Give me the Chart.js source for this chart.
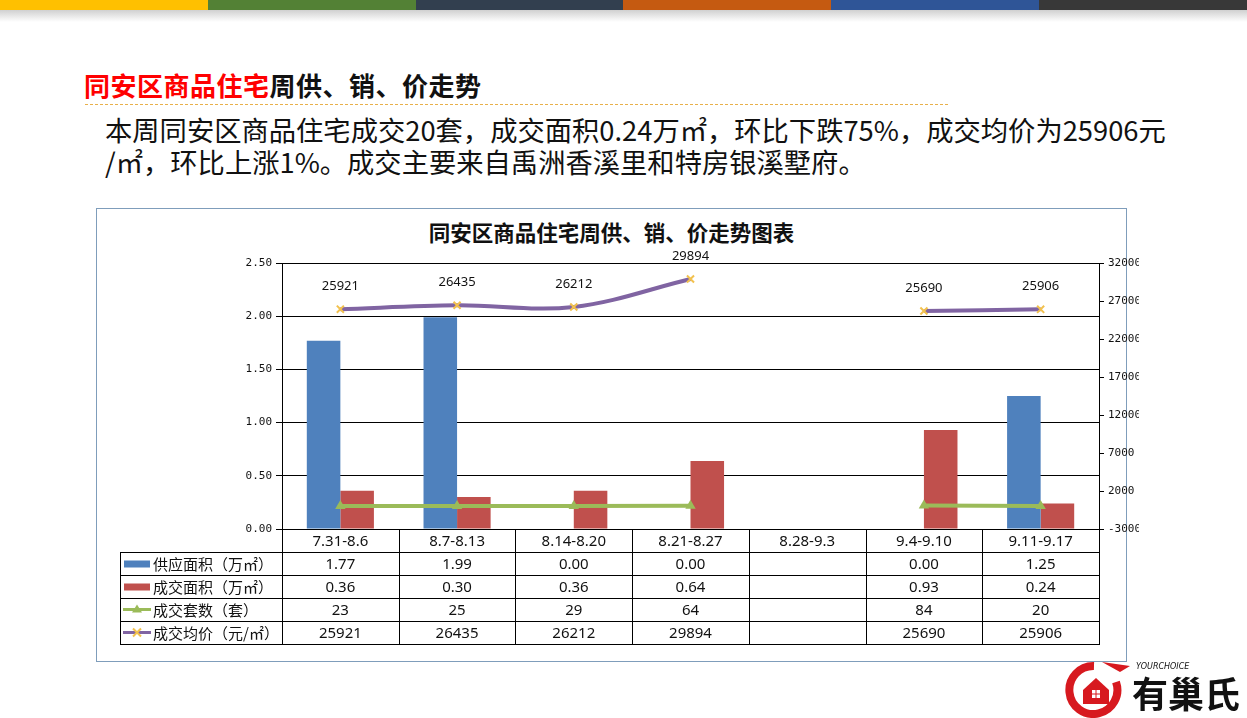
<html><head><meta charset="UTF-8">
<title>同安区商品住宅周供、销、价走势</title>
<style>
* { margin: 0; padding: 0; box-sizing: border-box; }
body { width: 1247px; height: 718px; background: #fff; position: relative; overflow: hidden;
  font-family: 'Noto Sans CJK SC', 'Noto Sans', sans-serif; }
.stripes { position: absolute; left: 0; top: 0; width: 1247px; height: 10px; display: flex; }
.stripes div { flex: 1; height: 10px; }
.shade { position: absolute; left: 0; top: 10px; width: 1247px; height: 12px;
  background: linear-gradient(rgba(120,120,120,0.35), rgba(255,255,255,0)); }
.heading { position: absolute; left: 84px; top: 66px; font-size: 26px; font-weight: bold; color: #111; letter-spacing: 0.5px; }
.heading span { color: #ff0000; }
.dots { position: absolute; left: 85px; top: 104px; width: 863px; border-top: 1px dashed #e8b04a; }
.para { position: absolute; left: 105px; top: 113px; font-size: 27.3px; line-height: 32px; color: #111; width: 1140px; }
.box { position: absolute; left: 96px; top: 208px; width: 1031px; height: 454px; border: 1px solid #7f9dbb; }
.ctitle { position: absolute; left: 96px; top: 216px; width: 1031px; text-align: center;
  font-size: 21.5px; font-weight: bold; color: #111; }
#wrap { position: absolute; left: 0; top: 0; width: 1247px; height: 718px; }
.logo { position: absolute; left: 1064px; top: 658px; width: 183px; height: 60px; }
</style>
<script src="https://cdn.jsdelivr.net/npm/chart.js"></script>
</head>
<body>

<div class="stripes">
  <div style="background:#ffc000"></div>
  <div style="background:#538135"></div>
  <div style="background:#323f4f"></div>
  <div style="background:#c55a11"></div>
  <div style="background:#2f5597"></div>
  <div style="background:#383838"></div>
</div>
<div class="shade"></div>

<div class="heading"><span>同安区商品住宅</span>周供、销、价走势</div>
<div class="dots"></div>
<div class="para">本周同安区商品住宅成交20套，成交面积0.24万㎡，环比下跌75%，成交均价为25906元<br>/㎡，环比上涨1%。成交主要来自禹洲香溪里和特房银溪墅府。</div>

<div class="box"></div>
<div class="ctitle">同安区商品住宅周供、销、价走势图表</div>

<div id="wrap"><canvas id="chart" width="1247" height="718"></canvas></div>

<svg class="logo" viewBox="0 0 183 60">
  <path d="M30 8 A24 24 0 1 0 52 24" fill="none" stroke="#d7191f" stroke-width="8"/>
  <path d="M38 4 L66 8 L56 14 Z" fill="#d7191f"/>
  <path d="M19 32 L32 20 L45 32 L45 46 L19 46 Z" fill="#d7191f"/>
  <rect x="28" y="32" width="8" height="8" fill="#fff"/>
  <line x1="32" y1="32" x2="32" y2="40" stroke="#d7191f" stroke-width="1"/>
  <line x1="28" y1="36" x2="36" y2="36" stroke="#d7191f" stroke-width="1"/>
  <text x="72" y="11" font-size="8" font-style="italic" fill="#111" font-family="DejaVu Sans">YOURCHOICE</text>
  <text x="68" y="50" font-size="36" font-weight="bold" fill="#111" font-family="Noto Sans CJK SC">有巢氏</text>
</svg>

<script>
const weeks = ['7.31-8.6', '8.7-8.13', '8.14-8.20', '8.21-8.27', '8.28-9.3', '9.4-9.10', '9.11-9.17'];
const supplyArea = [1.77, 1.99, 0.00, 0.00, null, 0.00, 1.25];
const dealArea = [0.36, 0.30, 0.36, 0.64, null, 0.93, 0.24];
const dealUnits = [23, 25, 29, 64, null, 84, 20];
const avgPrice = [25921, 26435, 26212, 29894, null, 25690, 25906];

const seriesNames = ['供应面积（万㎡）', '成交面积（万㎡）', '成交套数（套）', '成交均价（元/㎡）'];
const tableRows = [
  supplyArea.map(v => v === null ? '' : v.toFixed(2)),
  dealArea.map(v => v === null ? '' : v.toFixed(2)),
  dealUnits.map(v => v === null ? '' : String(v)),
  avgPrice.map(v => v === null ? '' : String(v))
];

const BLUE = '#4f81bd', RED = '#c0504d', GREEN = '#9bbb59', PURPLE = '#8064a2', STAR = '#f2c14e';

// 均价数据标签
const priceLabels = {
  id: 'priceLabels',
  afterDatasetsDraw(chart) {
    const ctx = chart.ctx;
    const meta = chart.getDatasetMeta(3);
    ctx.save();
    ctx.font = '13px "Noto Sans", sans-serif';
    ctx.fillStyle = '#111';
    ctx.textAlign = 'center';
    ctx.textBaseline = 'middle';
    meta.data.forEach((pt, i) => {
      if (avgPrice[i] === null) return;
      ctx.fillText(String(avgPrice[i]), pt.x, pt.y - 23);
    });
    ctx.restore();
  }
};

// 底部数据表
const dataTable = {
  id: 'dataTable',
  afterDraw(chart) {
    const ctx = chart.ctx;
    const area = chart.chartArea;
    const x = chart.scales.x;
    const colW = area.width / weeks.length;
    const top = area.bottom;
    const rowH = 23;
    const firstX = 120;
    ctx.save();
    ctx.strokeStyle = '#000';
    ctx.lineWidth = 1;
    ctx.beginPath();
    for (let i = 0; i <= weeks.length; i++) {
      const px = Math.round(area.left + i * colW) + 0.5;
      ctx.moveTo(px, top);
      ctx.lineTo(px, top + rowH * 5);
    }
    ctx.moveTo(firstX + 0.5, top + rowH);
    ctx.lineTo(firstX + 0.5, top + rowH * 5);
    for (let r = 1; r <= 5; r++) {
      const py = Math.round(top + r * rowH) + 0.5;
      ctx.moveTo(firstX, py);
      ctx.lineTo(area.right + 1, py);
    }
    ctx.stroke();

    ctx.font = '15px "Noto Sans", "Noto Sans CJK SC", sans-serif';
    ctx.fillStyle = '#111';
    ctx.textAlign = 'center';
    ctx.textBaseline = 'middle';
    weeks.forEach((w, i) => {
      const cx = x.getPixelForValue(i);
      ctx.fillText(w, cx, top + rowH / 2 + 1);
      tableRows.forEach((row, r) => {
        ctx.fillText(row[i], cx, top + rowH * (r + 1.5) + 1);
      });
    });

    // legend keys + series names
    ctx.textAlign = 'left';
    ctx.font = '15px "Noto Sans CJK SC", sans-serif';
    seriesNames.forEach((name, r) => {
      const cy = top + rowH * (r + 1.5);
      if (r === 0 || r === 1) {
        ctx.fillStyle = r === 0 ? BLUE : RED;
        ctx.fillRect(124, cy - 3, 26, 7);
      } else {
        ctx.strokeStyle = r === 2 ? GREEN : PURPLE;
        ctx.lineWidth = 3;
        ctx.beginPath();
        ctx.moveTo(123, cy);
        ctx.lineTo(151, cy);
        ctx.stroke();
        if (r === 2) {
          ctx.fillStyle = GREEN;
          ctx.beginPath();
          ctx.moveTo(137, cy - 5);
          ctx.lineTo(142, cy + 3);
          ctx.lineTo(132, cy + 3);
          ctx.closePath();
          ctx.fill();
        } else {
          ctx.strokeStyle = STAR;
          ctx.lineWidth = 2;
          ctx.beginPath();
          ctx.moveTo(133, cy - 4); ctx.lineTo(141, cy + 4);
          ctx.moveTo(141, cy - 4); ctx.lineTo(133, cy + 4);
          ctx.stroke();
        }
      }
      ctx.fillStyle = '#111';
      ctx.fillText(name, 153, cy + 1);
    });
    ctx.restore();
  }
};

new Chart(document.getElementById('chart'), {
  type: 'bar',
  data: {
    labels: weeks,
    datasets: [
      { label: seriesNames[0], data: supplyArea, backgroundColor: BLUE, yAxisID: 'y', order: 3,
        barPercentage: 1, categoryPercentage: 0.575 },
      { label: seriesNames[1], data: dealArea, backgroundColor: RED, yAxisID: 'y', order: 4,
        barPercentage: 1, categoryPercentage: 0.575 },
      { type: 'line', label: seriesNames[2], data: dealUnits, yAxisID: 'y1', order: 2,
        borderColor: GREEN, borderWidth: 4, backgroundColor: GREEN,
        pointStyle: 'triangle', pointRadius: 6, pointBorderWidth: 0, spanGaps: false },
      { type: 'line', label: seriesNames[3], data: avgPrice, yAxisID: 'y1', order: 1,
        borderColor: PURPLE, borderWidth: 4, tension: 0.35,
        pointStyle: 'crossRot', pointRadius: 5, pointBorderColor: STAR, pointBorderWidth: 2, spanGaps: false }
    ]
  },
  options: {
    responsive: false,
    animation: false,
    layout: { padding: { left: 242, right: 108, top: 263, bottom: 189 } },
    plugins: { legend: { display: false }, tooltip: { enabled: false }, title: { display: false } },
    scales: {
      x: { display: false },
      y: {
        position: 'left', min: 0, max: 2.5,
        afterFit: s => { s.width = 40; },
        ticks: { stepSize: 0.5, color: '#111', padding: 4,
          font: { family: 'DejaVu Sans Mono', size: 11 },
          callback: v => Number(v).toFixed(2) },
        grid: { color: '#000', lineWidth: 1, tickLength: 6 },
        border: { color: '#000' }
      },
      y1: {
        position: 'right', min: -3000, max: 32000,
        afterFit: s => { s.width = 40; },
        ticks: { stepSize: 5000, color: '#111', padding: 4,
          font: { family: 'DejaVu Sans Mono', size: 11 },
          callback: v => String(v) },
        grid: { drawOnChartArea: false, color: '#000', tickLength: 5 },
        border: { color: '#000' }
      }
    }
  },
  plugins: [priceLabels, dataTable]
});
</script>
</body></html>
